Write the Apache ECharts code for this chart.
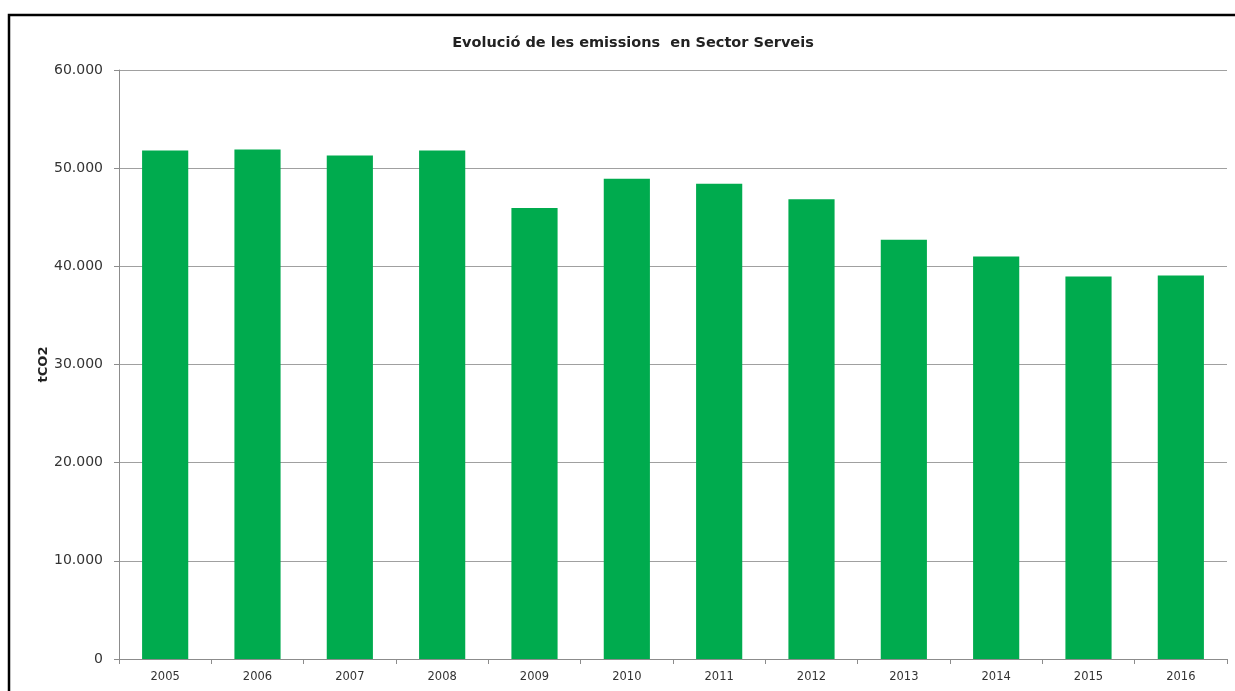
<!DOCTYPE html>
<html>
<head>
<meta charset="utf-8">
<script src="https://cdn.jsdelivr.net/npm/echarts@6/dist/echarts.min.js"></script>
<style>
html,body{margin:0;padding:0;background:#fff;}
#chart{width:1235px;height:691px;}
</style>
</head>
<body>
<div id="chart"></div>
<script>
const titleText = 'Evolució de les emissions  en Sector Serveis';
const yAxisName = 'tCO2';
const categories = ['2005','2006','2007','2008','2009','2010','2011','2012','2013','2014','2015','2016'];
const emissions = [51790, 51890, 51280, 51790, 45930, 48910, 48400, 46840, 42700, 41000, 38960, 39060];

function fmt(v){
  return String(v).replace(/\B(?=(\d{3})+(?!\d))/g, '.');
}

const chart = echarts.init(document.getElementById('chart'), null, {renderer:'canvas'});
chart.setOption({
  animation:false,
  backgroundColor:'#fff',
  graphic:[{
    type:'rect',
    shape:{x:9, y:15, width:1240, height:690},
    style:{fill:'none', stroke:'#000', lineWidth:2.5},
    silent:true
  }],
  title:{
    text:titleText,
    left:628, top:31, textAlign:'center',
    textStyle:{fontFamily:'DejaVu Sans', fontSize:14.5, fontWeight:'bold', color:'#222'}
  },
  grid:{left:119, right:8, top:70, bottom:32, containLabel:false},
  xAxis:{
    type:'category',
    data:categories,
    axisLine:{lineStyle:{color:'#8c8c8c', width:1}},
    axisTick:{show:true, length:5, lineStyle:{color:'#8c8c8c'}},
    axisLabel:{fontFamily:'DejaVu Sans', fontSize:11.5, color:'#333', margin:12}
  },
  yAxis:{
    type:'value',
    min:0, max:60000, interval:10000,
    name:yAxisName,
    nameLocation:'middle',
    nameGap:69,
    nameRotate:90,
    nameMoveOverlap:false,
    nameTextStyle:{fontFamily:'DejaVu Sans', fontSize:13, fontWeight:'bold', color:'#222'},
    axisLine:{show:true, lineStyle:{color:'#8c8c8c', width:1}},
    axisTick:{show:true, length:5, lineStyle:{color:'#8c8c8c'}},
    splitLine:{show:true, lineStyle:{color:'#a0a0a0', width:1}},
    axisLabel:{fontFamily:'DejaVu Sans', fontSize:14, color:'#333', margin:16, formatter:fmt}
  },
  series:[{
    type:'bar',
    data:emissions,
    barWidth:'50%',
    itemStyle:{color:'#00AB4E'}
  }]
});
</script>
</body>
</html>
